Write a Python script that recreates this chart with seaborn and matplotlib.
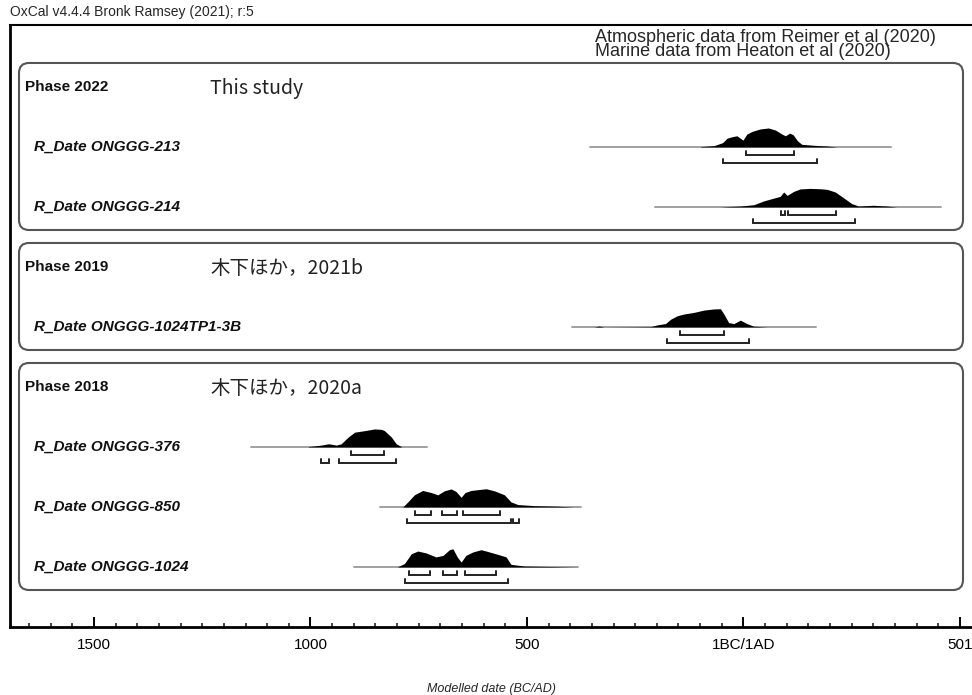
import numpy as np
import pandas as pd
import seaborn as sns
import matplotlib.pyplot as plt
from matplotlib.patches import FancyBboxPatch
from matplotlib.transforms import blended_transform_factory

# rows of the OxCal plot (top to bottom); years: BC negative, AD positive
row_kind = ['phase', 'date', 'date', 'phase', 'date', 'phase', 'date', 'date', 'date']
row_label = ['Phase 2022', 'R_Date ONGGG-213', 'R_Date ONGGG-214',
             'Phase 2019', 'R_Date ONGGG-1024TP1-3B',
             'Phase 2018', 'R_Date ONGGG-376', 'R_Date ONGGG-850', 'R_Date ONGGG-1024']
phase_note = {0: 'This study', 3: '木下ほか，2021b', 5: '木下ほか，2020a'}
phase_rows = [(0, 2), (3, 4), (5, 8)]

# baseline (extent of the likelihood) for each date row
base_213 = [-354, 340]
base_214 = [-204, 456]
base_3b = [-396, 167]
base_376 = [-1137, -731]
base_850 = [-840, -375]
base_1024 = [-900, -382]

# posterior shape (year, relative height)
yr_213 = [-99, -68, -48, -38, -26, -15, -7, -1, 8, 20, 39, 58, 74, 89, 97, 107, 115, 125, 135, 162, 193, 216]
pd_213 = [0.02, 0.07, 0.23, 0.46, 0.54, 0.59, 0.46, 0.36, 0.68, 0.82, 0.95, 1.0, 0.89, 0.68, 0.59, 0.73, 0.64, 0.32, 0.14, 0.09, 0.05, 0.0]
yr_214 = [-53, -38, -7, 24, 47, 66, 85, 93, 101, 116, 131, 154, 177, 193, 212, 231, 250, 266, 300, 331, 354]
pd_214 = [0.0, 0.02, 0.05, 0.12, 0.32, 0.44, 0.56, 0.79, 0.61, 0.82, 0.95, 0.98, 0.96, 0.93, 0.79, 0.49, 0.18, 0.05, 0.09, 0.05, 0.0]
yr_3b = [-345, -333, -322, -214, -199, -180, -168, -153, -138, -114, -91, -68, -53, -45, -34, -22, -7, 8, 24, 55]
pd_3b = [0.0, 0.05, 0.0, 0.02, 0.11, 0.18, 0.41, 0.59, 0.68, 0.77, 0.89, 0.95, 0.96, 0.68, 0.23, 0.18, 0.36, 0.18, 0.04, 0.0]
yr_376 = [-1005, -975, -958, -940, -929, -913, -898, -875, -852, -836, -829, -813, -802, -790]
pd_376 = [0.02, 0.10, 0.17, 0.10, 0.17, 0.52, 0.78, 0.86, 0.95, 0.93, 0.86, 0.52, 0.17, 0.02]
yr_850 = [-786, -775, -760, -741, -721, -706, -691, -675, -664, -652, -643, -629, -614, -594, -575, -552, -537, -521, -483, -429, -391]
pd_850 = [0.02, 0.27, 0.64, 0.87, 0.76, 0.64, 0.85, 0.95, 0.82, 0.51, 0.76, 0.87, 0.91, 0.96, 0.85, 0.64, 0.27, 0.13, 0.07, 0.04, 0.0]
yr_1024 = [-798, -783, -767, -752, -733, -710, -694, -679, -671, -661, -652, -641, -625, -606, -591, -568, -548, -537, -506, -429, -383]
pd_1024 = [0.02, 0.18, 0.70, 0.84, 0.74, 0.53, 0.61, 0.91, 0.96, 0.53, 0.26, 0.61, 0.79, 0.91, 0.82, 0.67, 0.53, 0.14, 0.05, 0.02, 0.0]

# highest posterior density ranges
r68_213 = [(5, 118)]
r95_213 = [(-46, 169)]
r68_214 = [(86, 97), (104, 213)]
r95_214 = [(23, 257)]
r68_3b = [(-146, -44)]
r95_3b = [(-176, 14)]
r68_376 = [(-907, -831)]
r95_376 = [(-975, -958), (-935, -803)]
r68_850 = [(-759, -722), (-697, -662), (-648, -562)]
r95_850 = [(-778, -537), (-532, -519)]
r68_1024 = [(-773, -725), (-694, -662), (-644, -572)]
r95_1024 = [(-782, -544)]

dates = {
    1: (base_213, yr_213, pd_213, r68_213, r95_213),
    2: (base_214, yr_214, pd_214, r68_214, r95_214),
    4: (base_3b, yr_3b, pd_3b, r68_3b, r95_3b),
    6: (base_376, yr_376, pd_376, r68_376, r95_376),
    7: (base_850, yr_850, pd_850, r68_850, r95_850),
    8: (base_1024, yr_1024, pd_1024, r68_1024, r95_1024),
}

major_ticks = [-1500, -1000, -500, 0, 500]
major_labels = ['1500', '1000', '500', '1BC/1AD', '501']

sns.set_theme(style='white')
plt.rcParams['font.family'] = ['Liberation Sans', 'DejaVu Sans']
jp = ['Noto Sans CJK JP', 'DejaVu Sans']

W, H = 972, 695
fig = plt.figure(figsize=(W / 100, H / 100), dpi=100)
ax = fig.add_axes([10 / W, (H - 627) / H, 962 / W, 602 / H])
x0, x1 = -1694, 528
ax.set_xlim(x0, x1)
ax.set_ylim(9.0, -1.033)

px_x = 962 / (x1 - x0)   # px per year
px_y = 60.0              # px per row
hscale = 19 / px_y

for r, (base, yrs, dens, r68, r95) in dates.items():
    sns.lineplot(x=base, y=[r, r], ax=ax, color='#a0a0a0', lw=1.4, legend=False)
    d = np.array(dens)
    ax.fill_between(yrs, r, r - d * hscale, color='black', lw=0, zorder=3)
    for rng, off in ((r68, 8), (r95, 16)):
        yb = r + off / px_y
        for a, b in rng:
            ax.plot([a, a, b, b], [yb - 3.5 / px_y, yb, yb, yb - 3.5 / px_y],
                    color='#222222', lw=1.4, solid_joinstyle='miter', zorder=3)

# phase boxes
bx0 = x0 + 9 / px_x
bx1 = x0 + 953 / px_x
for first, last in phase_rows:
    top = first - 24 / px_y
    bot = last + 23 / px_y
    box = FancyBboxPatch((bx0, top), bx1 - bx0, bot - top,
                         boxstyle='round,pad=0,rounding_size=%f' % (10 / px_x),
                         mutation_aspect=px_x / px_y, fc='none', ec='#555555', lw=1.5)
    ax.add_patch(box)

tr = blended_transform_factory(ax.transAxes, ax.transData)
for i, (kind, lab) in enumerate(zip(row_kind, row_label)):
    if kind == 'phase':
        ax.text(15 / 962, i, lab, transform=tr, ha='left', va='center',
                fontsize=11, fontweight='bold', color='#111111')
    else:
        ax.text(24 / 962, i, lab, transform=tr, ha='left', va='center',
                fontsize=11, fontweight='bold', fontstyle='italic', color='#111111')
for i, note in phase_note.items():
    ax.text(200 / 962, i + 0.03, note, transform=tr, ha='left', va='center',
            fontsize=14, family=jp, color='#222222')

# axes styling
ax.spines['right'].set_visible(False)
ax.spines['left'].set_linewidth(2)
ax.spines['bottom'].set_linewidth(2)
ax.spines['top'].set_linewidth(1.5)
for s in ['left', 'bottom', 'top']:
    ax.spines[s].set_color('black')
ax.set_yticks([])
ax.set_xticks(major_ticks)
ax.set_xticklabels(major_labels, fontsize=11)
ax.set_xticks(np.arange(-1650, 501, 50), minor=True)
ax.tick_params(axis='x', which='major', direction='in', length=7.5, width=1.4,
               pad=8, bottom=True, top=False, colors='black')
ax.tick_params(axis='x', which='minor', direction='in', length=3, width=1.2,
               bottom=True, top=False)
ax.set_xlabel('Modelled date (BC/AD)', fontstyle='italic', fontsize=9, labelpad=22)

fig.text(10 / W, 1 - 12 / H, 'OxCal v4.4.4 Bronk Ramsey (2021); r:5',
         fontsize=10, ha='left', va='center')
fig.text(595 / W, 1 - 37 / H, 'Atmospheric data from Reimer et al (2020)',
         fontsize=13, ha='left', va='center')
fig.text(595 / W, 1 - 51 / H, 'Marine data from Heaton et al (2020)',
         fontsize=13, ha='left', va='center')

fig.savefig('out.png', dpi=100)
